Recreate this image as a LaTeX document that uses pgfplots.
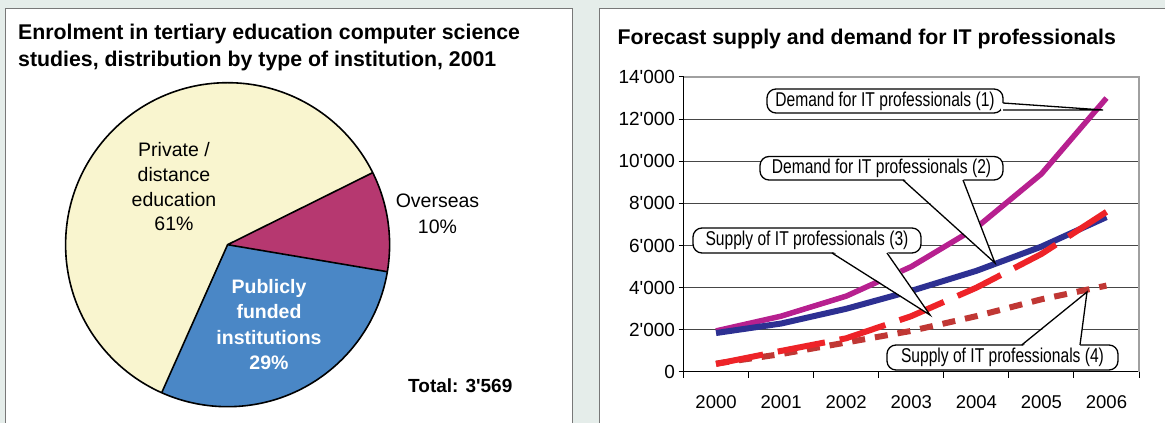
\documentclass[border=0pt]{standalone}
\usepackage{fontspec}
\setmainfont{Liberation Sans}[Ligatures=TeXOff]
\newfontfamily\narrowfont{Liberation Sans}[FakeStretch=0.78,Ligatures=TeXOff]
\usepackage{pgfplots}
\pgfplotsset{compat=1.18}
\definecolor{bg}{RGB}{229,237,234}
\definecolor{panelgray}{RGB}{120,120,120}
\definecolor{privcol}{RGB}{249,245,207}
\definecolor{overcol}{RGB}{182,56,112}
\definecolor{pubcol}{RGB}{74,135,198}
\definecolor{magC}{RGB}{183,32,143}
\definecolor{navyC}{RGB}{45,48,146}
\definecolor{redC}{RGB}{238,35,40}
\definecolor{dredC}{RGB}{192,55,52}
\definecolor{gridC}{RGB}{70,70,70}
\definecolor{borderC}{RGB}{160,160,160}
% pie data (percent)
\def\pOver{10}
\def\pPub{29}
\def\pPriv{61}
\def\pStart{26.4}
\begin{document}
\begin{tikzpicture}[x=1pt,y=1pt]
\useasboundingbox (0,0) rectangle (1165,423);
\clip (0,0) rectangle (1165,423);
\fill[bg] (0,0) rectangle (1165,423);
\filldraw[fill=white,draw=panelgray,line width=1pt] (5.5,-10) rectangle (572,414);
\filldraw[fill=white,draw=panelgray,line width=1pt] (599,-10) rectangle (1190,414);
% titles
\tikzset{ttl/.style={anchor=base west,inner sep=0pt,font=\bfseries\fontsize{21.3}{25}\selectfont}}
\node[ttl] at (18,383) {Enrolment in tertiary education computer science};
\node[ttl] at (18,356.5) {studies, distribution by type of institution, 2001};
\node[ttl] at (617.5,378) {Forecast supply and demand for IT professionals};
% pie
\pgfmathsetmacro\aA{\pStart-3.6*\pOver}
\pgfmathsetmacro\aB{\aA-3.6*\pPub}
\pgfmathsetmacro\aC{\aB-3.6*\pPriv}
\begin{scope}[shift={(227.6,178.3)}]
\fill[overcol] (0,0) -- (\pStart:162) arc[start angle=\pStart,end angle=\aA,radius=162] -- cycle;
\fill[pubcol] (0,0) -- (\aA:162) arc[start angle=\aA,end angle=\aB,radius=162] -- cycle;
\fill[privcol] (0,0) -- (\aB:162) arc[start angle=\aB,end angle=\aC,radius=162] -- cycle;
\draw[line width=1.6pt] (0,0) circle[radius=162];
\draw[line width=1.6pt,line join=round] (\pStart:162) -- (0,0) -- (\aA:162);
\draw[line width=1.6pt] (0,0) -- (\aB:162);
\end{scope}
\tikzset{pl/.style={anchor=base,inner sep=0pt,font=\fontsize{19.5}{23}\selectfont}}
\node[pl] at (174,266) {Private /};
\node[pl] at (174,241.3) {distance};
\node[pl] at (174,216.3) {education};
\node[pl] at (174,192) {\pPriv\%};
\node[pl] at (437.5,215) {Overseas};
\node[pl] at (437.5,189) {\pOver\%};
\node[pl,text=white,font=\bfseries\fontsize{19.5}{23}\selectfont] at (269,129) {Publicly};
\node[pl,text=white,font=\bfseries\fontsize{19.5}{23}\selectfont] at (269,104) {funded};
\node[pl,text=white,font=\bfseries\fontsize{19.5}{23}\selectfont] at (269,78.5) {institutions};
\node[pl,text=white,font=\bfseries\fontsize{19.5}{23}\selectfont] at (269,53.5) {\pPub\%};
\node[anchor=base west,inner sep=0pt,font=\bfseries\fontsize{19}{23}\selectfont] at (408,30.3) {Total: 3'569};
% line chart
\begin{axis}[at={(683.5pt,51pt)},anchor=south west,scale only axis,
  width=455.5pt,height=295pt,
  xmin=-0.5,xmax=6.5,ymin=0,ymax=14000,
  xtick={0,...,6},xticklabels={2000,2001,2002,2003,2004,2005,2006},
  minor xtick={-0.5,0.5,...,6.5},
  ytick={0,2000,...,14000},
  yticklabels={0,2'000,4'000,6'000,8'000,10'000,12'000,14'000},
  scaled y ticks=false,
  axis x line*=bottom,axis y line*=left,
  axis line style={black,line width=1pt,-},
  tick align=outside,
  major tick length=5pt,minor tick length=6pt,
  major x tick style={draw=none},
  every tick/.append style={black,line width=1pt},
  ymajorgrids,major grid style={gridC,line width=1pt},
  yticklabel style={font=\fontsize{19}{22}\selectfont},
  xticklabel style={font=\fontsize{18.5}{22}\selectfont,yshift=-15pt},
  clip=false,
  ]
\addplot[magC,line width=5.5pt,line join=round,no markers] coordinates {(0,1950)(1,2650)(2,3600)(3,5000)(4,6850)(5,9400)(6,13000)};
\addplot[navyC,line width=6pt,line join=round,no markers] coordinates {(0,1850)(1,2300)(2,3000)(3,3850)(4,4800)(5,5950)(6,7350)};
\addplot[dredC,line width=6pt,dash pattern=on 13pt off 10pt,no markers] coordinates {(0,400)(1,850)(2,1400)(3,1950)(4,2650)(5,3450)(6,4100)};
\addplot[redC,line width=6pt,dash pattern=on 48pt off 15pt,no markers] coordinates {(0,380)(1,1000)(2,1600)(3,2650)(4,4000)(5,5600)(6,7600)};
\draw[borderC,line width=1.5pt] (rel axis cs:0,1) -- (rel axis cs:1,1) -- (rel axis cs:1,0);
\end{axis}
% callouts
\tikzset{cbox/.style={fill=white,draw=black,line width=1.3pt,rounded corners=9pt},
  ctext/.style={inner sep=0pt,font=\narrowfont\fontsize{20}{22}\selectfont}}
\draw[cbox] (767,310) rectangle (1003,334);
\fill[white] (1001,320) -- (1103,313) -- (1001,313) -- cycle;
\draw[line width=1.3pt] (1003,320) -- (1103,313) -- (1003,313);
\node[ctext] at (885,322) {Demand for IT professionals (1)};
\draw[cbox] (760,243) rectangle (1003,266.5);
\fill[white] (903,245) -- (995,160) -- (963,245) -- cycle;
\draw[line width=1.3pt] (903,243) -- (995,160) -- (963,243);
\node[ctext] at (881.5,254.8) {Demand for IT professionals (2)};
\draw[cbox] (693,170) rectangle (921,195);
\fill[white] (832,172) -- (930,108) -- (887,172) -- cycle;
\draw[line width=1.3pt] (832,170) -- (930,108) -- (887,170);
\node[ctext] at (807,182.5) {Supply of IT professionals (3)};
\draw[cbox] (887,53) rectangle (1118,78);
\fill[white] (1021.7,76) -- (1087,131) -- (1080,76) -- cycle;
\draw[line width=1.3pt] (1021.7,78) -- (1087,131) -- (1080,78);
\node[ctext] at (1002.5,65.5) {Supply of IT professionals (4)};
\end{tikzpicture}
\end{document}
